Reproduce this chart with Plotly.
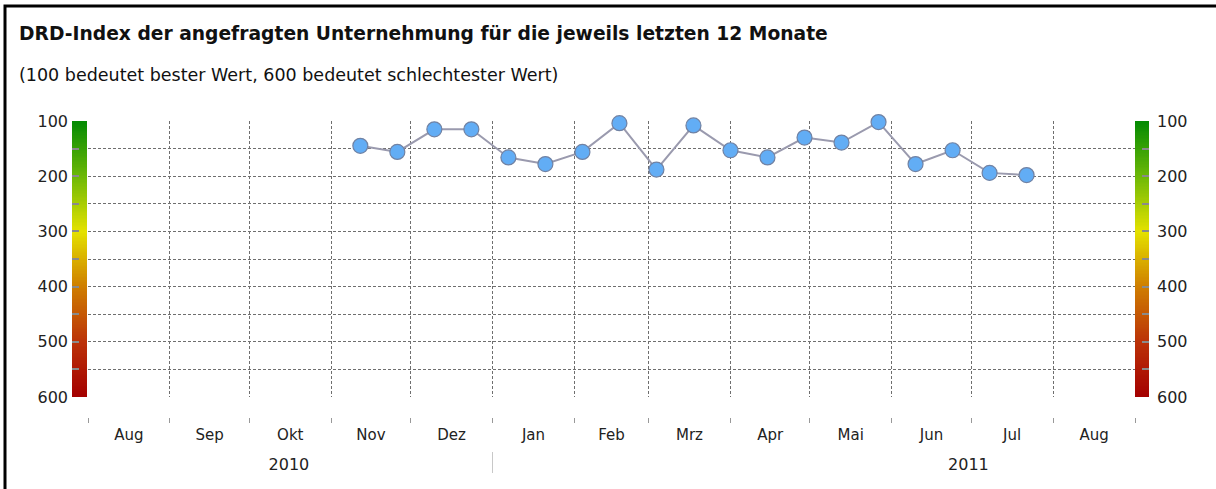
import plotly.graph_objects as go
import pandas as pd
import numpy as np

# ---------------- data ----------------
dates = ['2010-11-12', '2010-11-26', '2010-12-10', '2010-12-24', '2011-01-07',
         '2011-01-21', '2011-02-04', '2011-02-18', '2011-03-04', '2011-03-18',
         '2011-04-01', '2011-04-15', '2011-04-29', '2011-05-13', '2011-05-27',
         '2011-06-10', '2011-06-24', '2011-07-08', '2011-07-22']
drd_index = [145, 156, 115, 115, 166, 178, 156, 104, 188, 108,
             153, 166, 130, 139, 102, 178, 153, 194, 198]

month_starts = ['2010-08-01', '2010-09-01', '2010-10-01', '2010-11-01', '2010-12-01',
                '2011-01-01', '2011-02-01', '2011-03-01', '2011-04-01', '2011-05-01',
                '2011-06-01', '2011-07-01', '2011-08-01', '2011-09-01']
month_labels = ['Aug', 'Sep', 'Okt', 'Nov', 'Dez', 'Jan', 'Feb', 'Mrz', 'Apr', 'Mai',
                'Jun', 'Jul', 'Aug']
year_labels = ['2010', '2011']
year_label_dates = ['2010-10-16', '2011-06-30']
year_boundaries = ['2011-01-01']

y_ticks = [100, 150, 200, 250, 300, 350, 400, 450, 500, 550, 600]
y_tick_text = ['100', '', '200', '', '300', '', '400', '', '500', '', '600']
scale_min, scale_max = 100, 600

title = 'DRD-Index der angefragten Unternehmung für die jeweils letzten 12 Monate'
subtitle = '(100 bedeutet bester Wert, 600 bedeutet schlechtester Wert)'

# ---------------- helpers ----------------
W, H = 1216, 489
def px(x):
    return x / W
def py(y):
    return 1 - y / H

ms = pd.to_datetime(month_starts)
month_mids = [(ms[i] + (ms[i + 1] - ms[i]) / 2).strftime('%Y-%m-%d %H:%M') for i in range(len(ms) - 1)]

FONT = 'DejaVu Sans, Verdana, sans-serif'
GRID = '#6e6e6e'
DASH = '3px,2px'

colorscale = [[0.0, '#038a03'], [0.2, '#6cb806'], [0.4, '#e4e200'],
              [0.6, '#cf7e00'], [0.8, '#bb3208'], [1.0, '#a40000']]
edges = np.linspace(scale_min, scale_max, 201)
centers = (edges[:-1] + edges[1:]) / 2
zgrad = [[v] for v in centers]

fig = go.Figure()

for xa, ya in (('x2', 'y'), ('x3', 'y2')):
    fig.add_trace(go.Heatmap(x=[0, 1], y=edges, z=zgrad, xaxis=xa, yaxis=ya,
                             colorscale=colorscale, zmin=scale_min, zmax=scale_max,
                             showscale=False, hoverinfo='skip'))

# empty helper traces so the auxiliary (label) axes are rendered
for xa in ('x4', 'x5', 'x6', 'x7'):
    fig.add_trace(go.Scatter(x=[], y=[], xaxis=xa, yaxis='y', showlegend=False,
                             hoverinfo='skip'))

fig.add_trace(go.Scatter(
    x=dates, y=drd_index, mode='lines+markers', xaxis='x', yaxis='y',
    line=dict(color='#9a9aae', width=2),
    marker=dict(size=15, color='#62adf5', line=dict(color='#7182a3', width=1.2)),
    cliponaxis=False, showlegend=False))

xrange = [month_starts[0], month_starts[-1]]
common_x = dict(type='date', range=xrange, showgrid=False, zeroline=False, showline=False,
                overlaying='x', anchor='free', automargin=False)

fig.update_layout(
    width=W, height=H, margin=dict(l=0, r=0, t=0, b=0, pad=0), autosize=False,
    paper_bgcolor='white', plot_bgcolor='white', showlegend=False,
    font=dict(family=FONT, color='#222222'),
    xaxis=dict(domain=[px(88), px(1135)], type='date', range=xrange,
               tickvals=month_starts, showticklabels=False, ticks='',
               showgrid=True, gridcolor=GRID, gridwidth=1, griddash=DASH,
               zeroline=False, showline=False, anchor='y', automargin=False),
    yaxis=dict(domain=[py(397), py(121)], range=[scale_max, scale_min],
               tickvals=y_ticks, ticktext=y_tick_text, ticks='inside', ticklen=7,
               tickwidth=2, tickcolor='#8a8a8a', showgrid=True, gridcolor=GRID,
               gridwidth=1, griddash=DASH, zeroline=False, showline=False,
               anchor='x2', side='left', automargin=False, ticklabelstandoff=3,
               tickfont=dict(size=16, color='#222')),
    xaxis2=dict(domain=[px(72), px(87)], range=[0, 1], visible=False, anchor='y',
                automargin=False),
    xaxis3=dict(domain=[px(1135), px(1149)], range=[0, 1], visible=False, anchor='y2',
                automargin=False),
    yaxis2=dict(domain=[py(397), py(121)], range=[scale_max, scale_min], overlaying='y',
                side='right', anchor='x3', tickvals=y_ticks, ticktext=y_tick_text,
                ticks='inside', ticklen=7, tickwidth=2, tickcolor='#8a8a8a',
                showgrid=False, zeroline=False, showline=False, automargin=False,
                ticklabelstandoff=7, tickfont=dict(size=16, color='#222')),
    xaxis4=dict(common_x, position=py(417), tickvals=month_starts,
                ticktext=[''] * len(month_starts), ticks='outside', ticklen=5,
                tickcolor='#999', tickwidth=1),
    xaxis5=dict(common_x, position=py(424), tickvals=month_mids, ticktext=month_labels,
                ticks='', tickfont=dict(size=15, color='#222')),
    xaxis6=dict(common_x, position=py(451), tickvals=year_boundaries,
                ticktext=[''] * len(year_boundaries), ticks='outside', ticklen=21,
                tickcolor='#c8c8c8', tickwidth=1),
    xaxis7=dict(common_x, position=py(453), tickvals=year_label_dates,
                ticktext=year_labels, ticks='', tickfont=dict(size=16, color='#222')),
    shapes=[dict(type='rect', xref='paper', yref='paper', x0=px(5), x1=1.03,
                 y0=-0.03, y1=py(6), line=dict(color='black', width=3))],
    annotations=[
        dict(text='<b>' + title + '</b>', xref='paper', yref='paper', x=px(17), y=py(33),
             xanchor='left', yanchor='middle', showarrow=False,
             font=dict(size=18.7, color='#111', family=FONT)),
        dict(text=subtitle, xref='paper', yref='paper', x=px(17), y=py(75),
             xanchor='left', yanchor='middle', showarrow=False,
             font=dict(size=17.5, color='#111', family=FONT)),
    ],
)

fig.write_html('out.html', config={'displayModeBar': False},
               post_script="document.body.style.margin='0px';")
